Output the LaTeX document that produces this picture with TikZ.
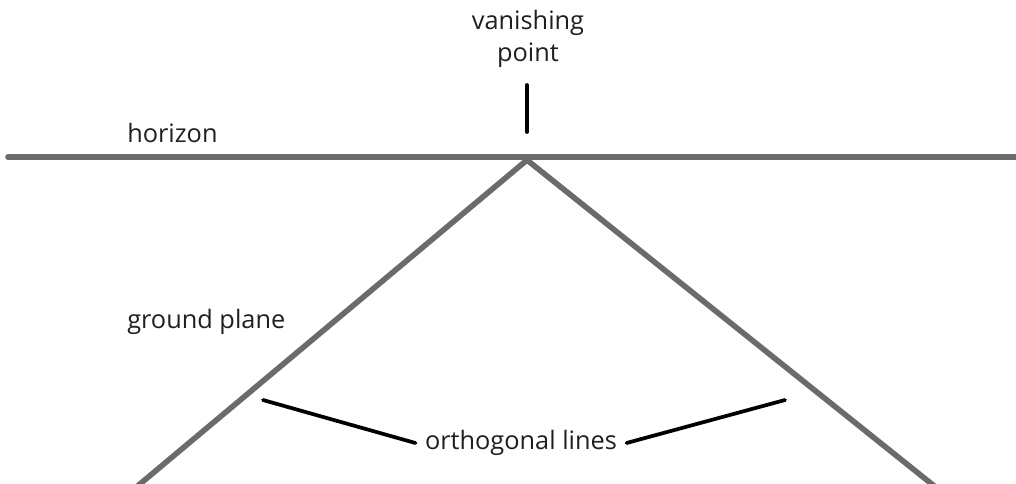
\documentclass[tikz,border=0pt]{standalone}
\usepackage{fontspec}
\setmainfont{Open Sans}
\begin{document}
\begin{tikzpicture}[x=0.75pt,y=-0.75pt,
  ground/.style={draw=black!58,line width=4.2pt,line cap=round},
  pointer/.style={draw=black,line width=2.8pt,line cap=round},
  lbl/.style={text=black!88,font=\fontsize{19}{24}\selectfont,inner sep=0pt,align=center}]
\useasboundingbox (0,0) rectangle (1016,483);
\coordinate (hl) at (8,157);
\coordinate (hr) at (1016,157);
\coordinate (vp) at (527,160);
\coordinate (gl) at (134,489);
\coordinate (gr) at (938,489);
\draw[ground] (hl) -- (hr);
\draw[ground] (vp) -- (gl);
\draw[ground] (vp) -- (gr);
\node[lbl] (vpl) at (528,39) {vanishing\\point};
\node[lbl,anchor=west] (hor) at (127,133) {horizon};
\node[lbl,anchor=west] (gp) at (127,322) {ground plane};
\node[lbl] (orth) at (521,443) {orthogonal lines};
\coordinate (t1) at (527,85);
\coordinate (t2) at (527,132);
\draw[pointer] (t1) -- (t2);
\coordinate (ol) at (263,400);
\coordinate (or) at (785,400);
\draw[pointer] ([xshift=-7pt]orth.west) -- (ol);
\draw[pointer] ([xshift=7pt]orth.east) -- (or);
\end{tikzpicture}
\end{document}
